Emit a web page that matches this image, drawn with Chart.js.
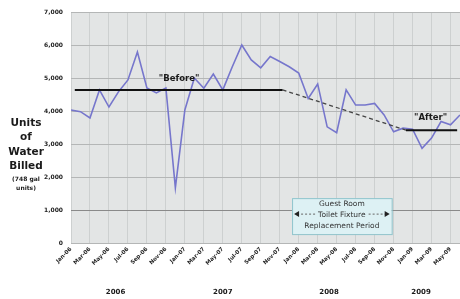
<!DOCTYPE html>
<html>
<head>
<meta charset="utf-8">
<script src="https://cdn.jsdelivr.net/npm/chart.js@4.4.1/dist/chart.umd.min.js"></script>
<style>
  html, body { margin: 0; padding: 0; background: #fff; }
  #wrap { width: 460px; height: 299px; }
</style>
</head>
<body>
<div id="wrap"><canvas id="waterChart" width="460" height="299"></canvas></div>
<script>
// Meses (Jan-06 a Jun-09)
const meses = ['Jan-06','Feb-06','Mar-06','Apr-06','May-06','Jun-06','Jul-06','Aug-06','Sep-06','Oct-06','Nov-06','Dec-06',
               'Jan-07','Feb-07','Mar-07','Apr-07','May-07','Jun-07','Jul-07','Aug-07','Sep-07','Oct-07','Nov-07','Dec-07',
               'Jan-08','Feb-08','Mar-08','Apr-08','May-08','Jun-08','Jul-08','Aug-08','Sep-08','Oct-08','Nov-08','Dec-08',
               'Jan-09','Feb-09','Mar-09','Apr-09','May-09','Jun-09'];

// Unidades facturadas por mes
const unidades = [4030, 3980, 3790, 4640, 4120, 4580, 4940, 5790, 4700, 4550, 4700, 1670,
                  4030, 5000, 4690, 5120, 4640, 5340, 6000, 5550, 5310, 5650, 5500, 5340,
                  5150, 4380, 4820, 3520, 3340, 4640, 4180, 4180, 4230, 3880, 3370, 3480,
                  3450, 2870, 3180, 3680, 3580, 3880];

// Niveles medios "Before" / "After" y tendencia entre ellos
const nivelAntes = 4640;
const nivelDespues = 3420;
const tramoAntes = [0.4, 22.3];     // meses (índice) donde va la línea "Before"
const tramoDespues = [35.3, 40.7];  // meses (índice) donde va la línea "After"

const anios = ['2006', '2007', '2008', '2009'];
const ticksY = [0, 1000, 2000, 3000, 4000, 5000, 6000, 7000];

// Puntos de la serie principal
const puntos = unidades.map((v, i) => ({ x: i, y: v }));

// Plugin: fondo del área, título del eje Y, años, textos y recuadro
const decoracion = {
    id: 'decoracion',
    beforeDraw(chart) {
        const { ctx, chartArea: a } = chart;
        ctx.save();
        ctx.fillStyle = '#e3e5e5';
        ctx.fillRect(a.left, a.top, a.right - a.left, a.bottom - a.top);
        ctx.strokeStyle = '#a0a0a0';
        ctx.lineWidth = 1;
        ctx.strokeRect(a.left + 0.5, a.top + 0.5, a.right - a.left, a.bottom - a.top);
        ctx.restore();
    },
    afterDatasetsDraw(chart) {
        const { ctx } = chart;
        const x = chart.scales.x, y = chart.scales.y;
        ctx.save();
        ctx.fillStyle = '#1a1a1a';
        ctx.textAlign = 'center';
        ctx.textBaseline = 'middle';

        // Etiquetas "Before" y "After"
        ctx.font = 'bold 8.5px "DejaVu Sans"';
        ctx.fillText('"Before"', x.getPixelForValue(11.4), y.getPixelForValue(4970));
        ctx.fillText('"After"', x.getPixelForValue(37.9), y.getPixelForValue(3790));

        // Recuadro del periodo de reemplazo
        const bx0 = x.getPixelForValue(23.3), bx1 = x.getPixelForValue(33.8);
        const by0 = y.getPixelForValue(1360), by1 = y.getPixelForValue(270);
        ctx.fillStyle = '#ddf1f4';
        ctx.fillRect(bx0, by0, bx1 - bx0, by1 - by0);
        ctx.strokeStyle = '#8fc4cc';
        ctx.lineWidth = 1;
        ctx.strokeRect(bx0 + 0.5, by0 + 0.5, bx1 - bx0, by1 - by0);

        const cx = (bx0 + bx1) / 2;
        ctx.fillStyle = '#333';
        ctx.font = '7.5px "DejaVu Sans"';
        ctx.fillText('Guest Room', cx, by0 + 6);
        ctx.fillText('Toilet Fixture', cx, by0 + 17);
        ctx.fillText('Replacement Period', cx, by0 + 28);

        // Flechas a ambos lados
        const ay = by0 + 16;
        const tw = ctx.measureText('Toilet Fixture').width / 2 + 3;
        ctx.strokeStyle = '#666';
        ctx.setLineDash([2, 2]);
        ctx.beginPath();
        ctx.moveTo(bx0 + 5, ay); ctx.lineTo(cx - tw, ay);
        ctx.moveTo(cx + tw, ay); ctx.lineTo(bx1 - 5, ay);
        ctx.stroke();
        ctx.setLineDash([]);
        ctx.fillStyle = '#222';
        ctx.beginPath();
        ctx.moveTo(bx0 + 2, ay); ctx.lineTo(bx0 + 7, ay - 3); ctx.lineTo(bx0 + 7, ay + 3); ctx.closePath();
        ctx.moveTo(bx1 - 2, ay); ctx.lineTo(bx1 - 7, ay - 3); ctx.lineTo(bx1 - 7, ay + 3); ctx.closePath();
        ctx.fill();

        // Título del eje Y
        ctx.fillStyle = '#1a1a1a';
        ctx.font = 'bold 10.5px "DejaVu Sans"';
        ['Units', 'of', 'Water', 'Billed'].forEach((t, i) => ctx.fillText(t, 26, 123 + i * 14.5));
        ctx.font = 'bold 6px "DejaVu Sans"';
        ctx.fillText('(748 gal', 26, 179);
        ctx.fillText('units)', 26, 188);

        // Años bajo el eje X
        ctx.font = 'bold 7px "DejaVu Sans"';
        const centros = [4.7, 16, 27.2, 36.9];
        anios.forEach((t, i) => ctx.fillText(t, x.getPixelForValue(centros[i]), 292));
        ctx.restore();
    }
};

const renderChart = () => {
    const ctx = document.getElementById('waterChart').getContext('2d');

    const data = {
        datasets: [{
            label: 'Units',
            data: puntos,
            borderColor: 'rgb(118, 118, 204)',
            borderWidth: 1.6,
            pointRadius: 0,
            tension: 0,
            order: 2
        }, {
            label: 'Before',
            data: [{ x: tramoAntes[0], y: nivelAntes }, { x: tramoAntes[1], y: nivelAntes }],
            borderColor: '#111',
            borderWidth: 2,
            pointRadius: 0,
            order: 1
        }, {
            label: 'Tendencia',
            data: [{ x: tramoAntes[1], y: nivelAntes }, { x: tramoDespues[0], y: nivelDespues }],
            borderColor: '#444',
            borderWidth: 1.3,
            borderDash: [4, 3],
            pointRadius: 0,
            order: 1
        }, {
            label: 'After',
            data: [{ x: tramoDespues[0], y: nivelDespues }, { x: tramoDespues[1], y: nivelDespues }],
            borderColor: '#111',
            borderWidth: 2,
            pointRadius: 0,
            order: 1
        }]
    };

    const options = {
        responsive: false,
        animation: false,
        layout: { padding: { top: 12, right: 0, left: 0, bottom: 0 } },
        scales: {
            x: {
                type: 'linear',
                min: 0,
                max: 41,
                afterBuildTicks: s => {
                    s.ticks = meses.map((m, i) => i).filter(i => i % 2 === 0).map(v => ({ value: v }));
                },
                afterFit: s => { s.height = 56; s.paddingRight = 0; },
                grid: { color: '#cdd0d0', drawTicks: false },
                border: { display: false },
                ticks: {
                    autoSkip: false,
                    maxRotation: 45,
                    minRotation: 45,
                    padding: 3,
                    color: '#222',
                    font: { family: 'DejaVu Sans', size: 5.5, weight: 'bold' },
                    callback: v => meses[v] || ''
                }
            },
            y: {
                min: 0,
                max: 7000,
                afterFit: s => { s.width = 71; },
                afterBuildTicks: s => { s.ticks = ticksY.map(v => ({ value: v })); },
                grid: {
                    color: c => (c.tick && c.tick.value === 1000 ? '#8a8a8a' : '#b4b6b6'),
                    drawTicks: false
                },
                border: { display: false },
                ticks: {
                    padding: 8,
                    color: '#222',
                    font: { family: 'DejaVu Sans', size: 6, weight: 'bold' },
                    callback: v => v.toLocaleString('en-US')
                }
            }
        },
        plugins: {
            legend: { display: false },
            tooltip: { enabled: false }
        }
    };

    new Chart(ctx, { type: 'line', data: data, options: options, plugins: [decoracion] });
};

renderChart();
</script>
</body>
</html>
